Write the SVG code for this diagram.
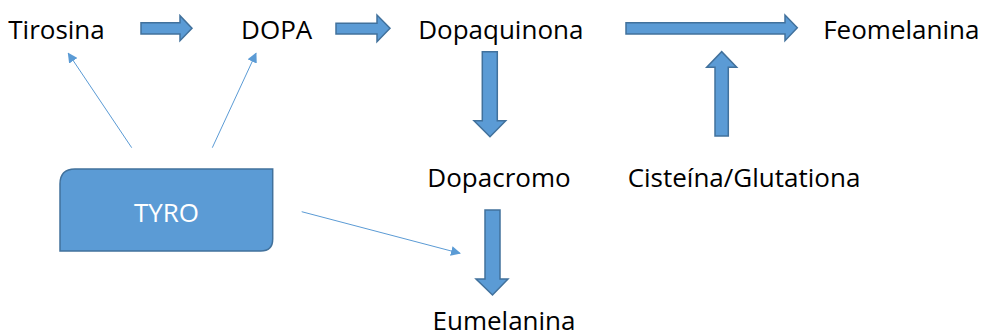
<svg xmlns="http://www.w3.org/2000/svg" width="983" height="336" viewBox="0 0 983 336">
<style>
.t{font-family:"Open Sans","Liberation Sans",sans-serif;font-size:26px;fill:#000;text-anchor:middle}
.blk{fill:#5B9BD5;stroke:#41719C;stroke-width:1.5}
.thin{stroke:#5B9BD5;stroke-width:1;fill:none;marker-end:url(#ah)}
</style>
<defs>
<marker id="ah" viewBox="0 0 10 10" refX="9" refY="5" markerWidth="10" markerHeight="10" markerUnits="userSpaceOnUse" orient="auto">
<path d="M0,0 L10,5 L0,10 z" fill="#5B9BD5"/>
</marker>
</defs>
<rect width="983" height="336" fill="#fff"/>
<g id="tirosina"><text class="t" x="56.5" y="39">Tirosina</text></g>
<g id="dopa"><text class="t" x="276.7" y="39">DOPA</text></g>
<g id="dopaquinona"><text class="t" x="500.8" y="39">Dopaquinona</text></g>
<g id="feomelanina"><text class="t" x="901.3" y="39">Feomelanina</text></g>
<g id="dopacromo"><text class="t" x="499" y="187">Dopacromo</text></g>
<g id="cisteina"><text class="t" x="744" y="187">Cisteína/Glutationa</text></g>
<g id="eumelanina"><text class="t" x="504" y="330">Eumelanina</text></g>
<g id="tyro">
<path class="blk" d="M75,169 H272.7 V239 Q272.7,251 260.7,251 H60 V184 Q60,169 75,169 Z"/>
<text x="166.5" y="221.5" style="font-family:'Open Sans','Liberation Sans',sans-serif;font-size:26px;fill:#fff;text-anchor:middle">TYRO</text>
</g>
<g id="connectors">
<path class="blk" d="M141,22.7 H180 V15.7 L192,28.3 L180,40.7 V34 H141 Z"/>
<path class="blk" d="M336,23.3 H377 V15 L390,28.3 L377,41.7 V34 H336 Z"/>
<path class="blk" d="M626,22.7 H785 V15 L797.3,27.8 L785,40.7 V34 H626 Z"/>
<path class="blk" d="M482.3,51.7 H497.3 V120.7 H505.7 L490,136.7 L474,120.7 H482.3 Z"/>
<path class="blk" d="M715,136 V67.3 H706.7 L721.7,51.7 L736.7,67.3 H728.3 V136 Z"/>
<path class="blk" d="M485,210 H500 V279 H508 L492.5,295 L476,279 H485 Z"/>
<line class="thin" x1="131.7" y1="147.7" x2="68.3" y2="53.3"/>
<line class="thin" x1="212.3" y1="147.7" x2="256" y2="53.3"/>
<line class="thin" x1="301.7" y1="211.7" x2="460" y2="253.3"/>
</g>
</svg>
